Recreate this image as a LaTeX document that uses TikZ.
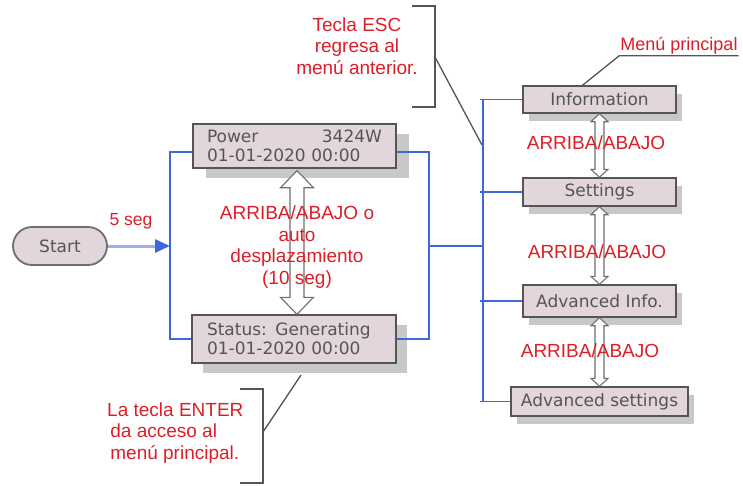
\documentclass[tikz,border=0pt]{standalone}
\usepackage{fontspec}
\setmainfont{DejaVu Sans}
\newfontfamily\redfont{Liberation Sans}
\usetikzlibrary{shadows,arrows.meta,calc}
\definecolor{boxfill}{RGB}{226,213,219}
\definecolor{boxline}{RGB}{85,85,85}
\definecolor{txtgray}{RGB}{85,85,85}
\definecolor{shgray}{RGB}{200,200,200}
\definecolor{myred}{RGB}{220,30,40}
\definecolor{myblue}{RGB}{60,105,215}
\definecolor{lightblue}{RGB}{150,180,235}
\definecolor{arrgray}{RGB}{110,110,110}
\tikzset{
 box/.style={draw=boxline, line width=1.4pt, fill=boxfill, text=txtgray, inner sep=0pt, font=\fontsize{17}{19}\selectfont},
 bigshadow/.style={general shadow={fill=shgray, shadow xshift=13pt, shadow yshift=-10pt}},
 smallshadow/.style={general shadow={fill=shgray, shadow xshift=6pt, shadow yshift=-8pt}},
 redtxt/.style={text=myred, font=\redfont\fontsize{19}{21.5}\selectfont, inner sep=0pt},
 bline/.style={draw=myblue, line width=1.8pt},
 callout/.style={draw=boxline, line width=1.3pt},
 hollow/.style={draw=arrgray, fill=white, line width=1.1pt, line join=miter},
}
\newcommand\vdarrow[5]{%
 \path[hollow] let \p1=(#1), \p2=(#2) in
 (\x1,\y1) -- (\x1+#3,\y1-#4) -- (\x1+#5,\y1-#4) -- (\x1+#5,\y2+#4) -- (\x1+#3,\y2+#4) -- (\x1,\y2)
 -- (\x1-#3,\y2+#4) -- (\x1-#5,\y2+#4) -- (\x1-#5,\y1-#4) -- (\x1-#3,\y1-#4) -- cycle;}
\begin{document}
\begin{tikzpicture}[x=1pt,y=-1pt]
\useasboundingbox (0,0) rectangle (743,485);

% nodes
\node[box, rounded corners=19pt, line width=1.8pt, draw=arrgray, minimum width=94pt, minimum height=38pt] (start) at (60,246) {Start};
\node[box, bigshadow, minimum width=203pt, minimum height=44pt, text width=175pt, align=left] (power) at (294.5,146) {Power\hfill 3424W\\01-01-2020 00:00};
\node[box, general shadow={fill=shgray, shadow xshift=11pt, shadow yshift=-10pt}, minimum width=204pt, minimum height=48pt, text width=174pt, align=left] (status) at (294,339) {Status: Generating\\01-01-2020 00:00};
\node[box, smallshadow, minimum width=153pt, minimum height=27pt] (info) at (599.5,99.5) {Information};
\node[box, smallshadow, minimum width=153pt, minimum height=28pt] (settings) at (599.5,192) {Settings};
\node[box, smallshadow, minimum width=153pt, minimum height=32pt] (advinfo) at (599.5,301) {Advanced Info.};
\node[box, smallshadow, minimum width=177pt, minimum height=29pt] (advset) at (599.5,401.5) {Advanced settings};

% blue connectors
\coordinate (lj) at (170,246);
\coordinate (rj) at (428,246);
\coordinate (mv) at (483,0);
\draw[bline] ([yshift=-6pt]power.west) -- ++(-22,0) |- (status.west);
\draw[bline] ([yshift=-6pt]power.east) -- ++(32,0) |- (status.east);
\draw[bline] (rj) -- (rj -| mv);
\draw[bline] (info.west -| mv) -- (advset.west -| mv);
\foreach \n in {info,settings,advinfo,advset}
  \draw[bline] ($(\n.west -| mv)+(-3,0)$) -- (\n.west);
\draw[lightblue, line width=3pt, -{Triangle[length=15pt,width=13pt,color=myblue]}] (start.east) -- (lj);

% hollow double arrows
\vdarrow{$(power.south)+(2.5,2)$}{$(status.north)+(3,0)$}{16.5pt}{17pt}{7pt}
\vdarrow{info.south}{settings.north}{8.5pt}{8pt}{4.5pt}
\vdarrow{settings.south}{advinfo.north}{8.5pt}{8pt}{4.5pt}
\vdarrow{advinfo.south}{advset.north}{8.5pt}{8pt}{4.5pt}

% labels
\node[redtxt, font=\redfont\fontsize{17.5}{19}\selectfont] (t5) at (131,221) {5 seg};
\node[redtxt, align=center] (tmid) at (297,247) {ARRIBA/ABAJO o\\auto\\desplazamiento\\(10 seg)};
\node[redtxt] (l1) at (596,143) {ARRIBA/ABAJO};
\node[redtxt] (l2) at (597,251.5) {ARRIBA/ABAJO};
\node[redtxt] (l3) at (590,351) {ARRIBA/ABAJO};

% ESC callout
\node[redtxt, align=center] (esc) at (357,46) {Tecla ESC\\regresa al\\menú anterior.};
\coordinate (e1) at (412,6);
\coordinate (e2) at (435,6);
\coordinate (e3) at (435,107);
\coordinate (e4) at (412,107);
\coordinate (em) at (435,57);
\coordinate (ev) at (482,145);
\draw[callout] (e1) -- (e2) -- (e3) -- (e4);
\draw[callout] (em) -- (ev);

% ENTER callout
\node[redtxt, align=left, anchor=west] (enter) at (107,433) {La tecla ENTER\\\,da acceso al\\\,menú principal.};
\coordinate (n1) at (240,389);
\coordinate (n2) at (263,389);
\coordinate (n3) at (263,483);
\coordinate (n4) at (240,483);
\coordinate (nm) at (263,432);
\coordinate (ns) at (301,375);
\draw[callout] (n1) -- (n2) -- (n3) -- (n4);
\draw[callout] (nm) -- (ns);

% Menu principal
\node[redtxt, font=\redfont\fontsize{18}{19}\selectfont, inner sep=1pt] (mp) at (679,46) {Menú principal};
\draw[callout] (mp.south east) -- (mp.south west) -- ([xshift=-17pt]info.north);
\end{tikzpicture}
\end{document}
